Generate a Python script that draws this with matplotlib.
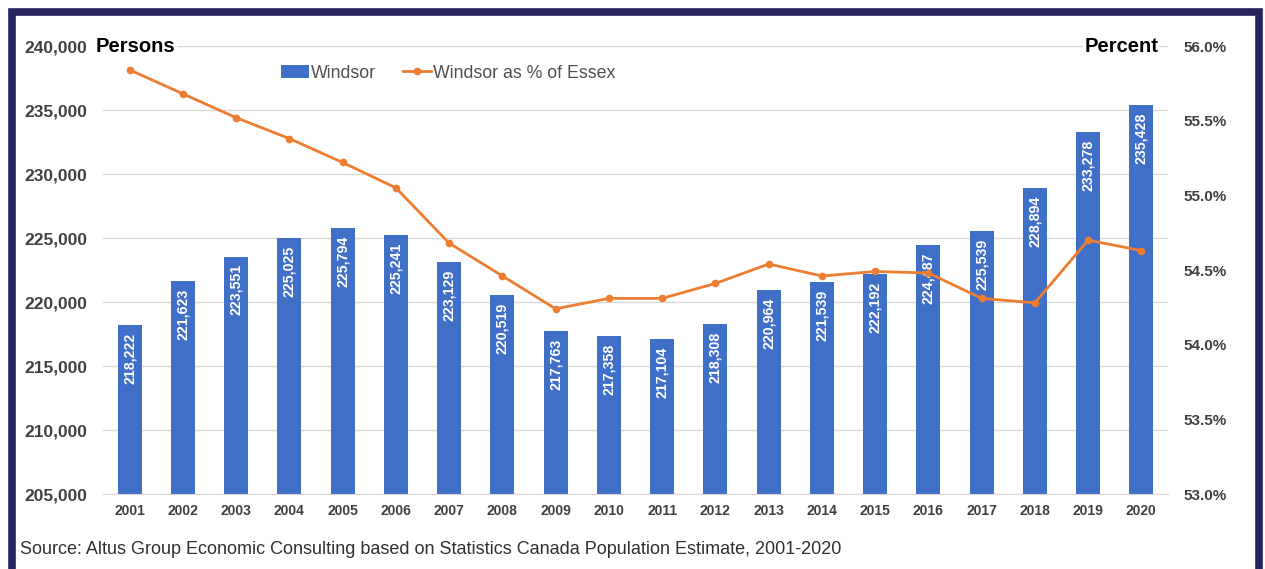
import matplotlib
matplotlib.use("Agg")
import matplotlib.pyplot as plt
from matplotlib.patches import Rectangle
from matplotlib.ticker import FuncFormatter, MultipleLocator

years = [str(y) for y in range(2001, 2021)]
windsor = [218222, 221623, 223551, 225025, 225794, 225241, 223129, 220519, 217763, 217358,
           217104, 218308, 220964, 221539, 222192, 224487, 225539, 228894, 233278, 235428]
pct_essex = [55.84, 55.68, 55.52, 55.38, 55.22, 55.05, 54.68, 54.46, 54.24, 54.31,
             54.31, 54.41, 54.54, 54.46, 54.49, 54.48, 54.31, 54.28, 54.70, 54.63]

plt.rcParams['font.family'] = ['Liberation Sans', 'DejaVu Sans']

W, H = 1265, 569
fig = plt.figure(figsize=(W / 100, H / 100), dpi=100)
fig.patch.set_facecolor('white')

ax = fig.add_axes([103 / W, 1 - 494 / H, (1168 - 103) / W, (494 - 46) / H])
bar_color = '#3F6FC6'
line_color = '#ED7D31'
grid_color = '#D9D9D9'
tick_color = '#404040'

x = list(range(len(years)))
bars = ax.bar(x, windsor, width=0.45, color=bar_color, label='Windsor', zorder=2)
ax.set_ylim(205000, 240000)
ax.set_xlim(-0.5, len(years) - 0.5)
ax.yaxis.set_major_locator(MultipleLocator(5000))
ax.yaxis.set_major_formatter(FuncFormatter(lambda v, p: f"{int(v):,}"))
ax.grid(axis='y', color=grid_color, linewidth=1, zorder=0)
ax.set_axisbelow(True)
for s in ['top', 'right', 'left']:
    ax.spines[s].set_visible(False)
ax.spines['bottom'].set_color(grid_color)
ax.tick_params(axis='y', length=0, pad=11.5, labelsize=12.5, labelcolor=tick_color)
ax.tick_params(axis='x', length=0, pad=7, labelsize=10, labelcolor=tick_color)
ax.set_xticks(x)
ax.set_xticklabels(years)
for lab in ax.get_yticklabels() + ax.get_xticklabels():
    lab.set_fontweight('bold')

for xi, v in zip(x, windsor):
    ax.text(xi, v - 600, f"{v:,}", rotation=90, ha='center', va='top',
            color='white', fontsize=10.2, fontweight='bold', zorder=4)

ax2 = ax.twinx()
ax2.set_ylim(53.0, 56.0)
ax2.yaxis.set_major_locator(MultipleLocator(0.5))
ax2.yaxis.set_major_formatter(FuncFormatter(lambda v, p: f"{v:.1f}%"))
for s in ['top', 'right', 'left', 'bottom']:
    ax2.spines[s].set_visible(False)
ax2.tick_params(axis='y', length=0, pad=10.8, labelsize=11, labelcolor=tick_color)
for lab in ax2.get_yticklabels():
    lab.set_fontweight('bold')
line, = ax2.plot(x, pct_essex, color=line_color, linewidth=2, marker='o', markersize=4.5,
                 label='Windsor as % of Essex', zorder=5)

fig.text(96 / W, 1 - 46 / H, 'Persons', ha='left', va='center', fontsize=14.5, fontweight='bold',
         color='black', bbox=dict(facecolor='white', edgecolor='none', pad=1), zorder=6)
fig.text(1158 / W, 1 - 46 / H, 'Percent', ha='right', va='center', fontsize=14.5, fontweight='bold',
         color='black', bbox=dict(facecolor='white', edgecolor='none', pad=1), zorder=6)

leg = fig.legend([bars, line], ['Windsor', 'Windsor as % of Essex'], loc='center',
                 bbox_to_anchor=(448 / W, 1 - 73 / H), ncol=2, frameon=False,
                 fontsize=12.8, handlelength=1.6, handletextpad=0.1, columnspacing=1.5)
for t in leg.get_texts():
    t.set_color('#505050')

fig.text(20 / W, 1 - 549 / H, 'Source: Altus Group Economic Consulting based on Statistics Canada Population Estimate, 2001-2020',
         ha='left', va='center', fontsize=13, color='#303030')

frame = Rectangle((11.5 / W, -0.05), (1258.5 - 11.5) / W, 1.05 - 11.5 / H, transform=fig.transFigure,
                  fill=False, edgecolor='#27245E', linewidth=5.5, zorder=10, clip_on=False)
fig.patches.append(frame)

fig.savefig('out.png', dpi=100, facecolor='white')
